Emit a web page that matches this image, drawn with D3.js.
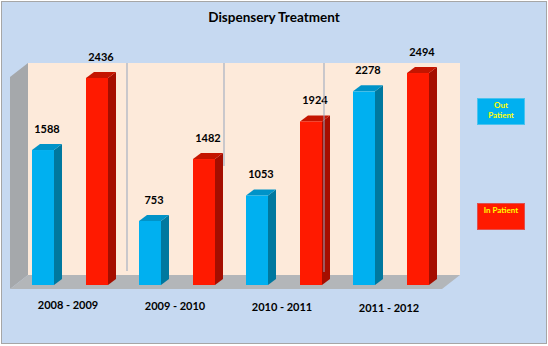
<!DOCTYPE html>
<html><head><meta charset="utf-8">
<script src="https://cdn.jsdelivr.net/npm/d3@7"></script>
<style>body{margin:0;background:#fff}svg{display:block}</style>
</head><body>
<script>
const categories = ["2008 - 2009", "2009 - 2010", "2010 - 2011", "2011 - 2012"];
const outPatient = [1588, 753, 1053, 2278];
const inPatient = [2436, 1482, 1924, 2494];
const seriesNames = ["Out Patient", "In Patient"];
const title = "Dispensery Treatment";

const W = 548, H = 346;
const svg = d3.select("body").append("svg").attr("width", W).attr("height", H);
const font = "Lato, 'Open Sans', sans-serif";

// background + frame
svg.append("rect").attr("x", 1.5).attr("y", 1.5).attr("width", 545).attr("height", 342)
  .attr("fill", "#C6D9F1").attr("stroke", "#A6A6A6").attr("stroke-width", 1);

// 3D geometry
const floorY = 289, depthX = 18, depthY = 14;
const x = d3.scaleBand().domain(categories).range([10, 438]);
const y = d3.scaleLinear().domain([0, 2500]).range([285, 72.5]);
const wallTop = 63, wallLeft = 28, wallRight = 460;

// back wall
svg.append("rect").attr("x", wallLeft).attr("y", wallTop).attr("width", wallRight - wallLeft)
  .attr("height", floorY - depthY - wallTop).attr("fill", "#FDEADA");
// left wall
svg.append("polygon").attr("points", [[10, wallTop + depthY], [wallLeft, wallTop], [wallLeft, floorY - depthY], [10, floorY]].join(" "))
  .attr("fill", "#A5A8AB");
// floor
svg.append("polygon").attr("points", [[10, floorY], [wallLeft, floorY - depthY], [wallRight, floorY - depthY], [wallRight - depthX, floorY]].join(" "))
  .attr("fill", "#B3B6B9");

// divider lines on back wall
const divLines = [[127, 63, 271], [224, 63, 166]];
divLines.forEach(d => svg.append("line").attr("x1", d[0]).attr("x2", d[0]).attr("y1", d[1]).attr("y2", d[2])
  .attr("stroke", "#95A5BD").attr("stroke-width", 1));

const bw = 22, sd = 8, td = 6;
const series = [
  {name: seriesNames[0], vals: outPatient, off: 22, front: "#00B0F0", side: "#00789F", top: "#0093C8"},
  {name: seriesNames[1], vals: inPatient, off: 76, front: "#FF1A00", side: "#A50E00", top: "#C41500"}
];
const bars = svg.append("g");
series.forEach(s => {
  s.vals.forEach((v, i) => {
    const x0 = x(categories[i]) + s.off, yt = y(v), yb = y(0);
    const g = bars.append("g");
    g.append("polygon").attr("points", [[x0 + bw, yt], [x0 + bw + sd, yt - td], [x0 + bw + sd, yb - td], [x0 + bw, yb]].join(" ")).attr("fill", s.side);
    g.append("polygon").attr("points", [[x0, yt], [x0 + sd, yt - td], [x0 + bw + sd, yt - td], [x0 + bw, yt]].join(" ")).attr("fill", s.top);
    g.append("rect").attr("x", x0).attr("y", yt).attr("width", bw).attr("height", yb - yt).attr("fill", s.front);
    svg.append("text").attr("x", x0 + bw / 2 + 4).attr("y", yt - 17).attr("text-anchor", "middle")
      .attr("font-family", font).attr("font-weight", "bold").attr("font-size", 11).attr("fill", "#000").text(v);
  });
});

// front divider line drawn over bar
svg.append("line").attr("x1", 324).attr("x2", 324).attr("y1", 63).attr("y2", 272)
  .attr("stroke", "#95A5BD").attr("stroke-width", 1);

// category labels
categories.forEach((c, i) => {
  svg.append("text").attr("x", x(c) + x.bandwidth() / 2 + 4.5).attr("y", 309 + i).attr("text-anchor", "middle")
    .attr("font-family", font).attr("font-weight", "bold").attr("font-size", 11).attr("fill", "#000").text(c);
});

// title
svg.append("text").attr("x", 274).attr("y", 22).attr("text-anchor", "middle")
  .attr("font-family", font).attr("font-weight", "bold").attr("font-size", 13.5).attr("fill", "#000").text(title);

// legend
const leg = [
  {lines: ["Out", "Patient"], y: 98, fill: "#00B0F0", stroke: "#4BC3EE"},
  {lines: ["In Patient"], y: 203, fill: "#FF1A00", stroke: "#E05050"}
];
leg.forEach(l => {
  svg.append("rect").attr("x", 477.5).attr("y", l.y + 0.5).attr("width", 47).attr("height", 26)
    .attr("fill", l.fill).attr("stroke", l.stroke).attr("stroke-width", 1);
  l.lines.forEach((t, j) => svg.append("text").attr("x", 501).attr("y", l.y + 10 + j * 10).attr("text-anchor", "middle")
    .attr("font-family", font).attr("font-weight", "bold").attr("font-size", 8).attr("fill", "#FFFF00").text(t));
});
</script>
</body></html>
